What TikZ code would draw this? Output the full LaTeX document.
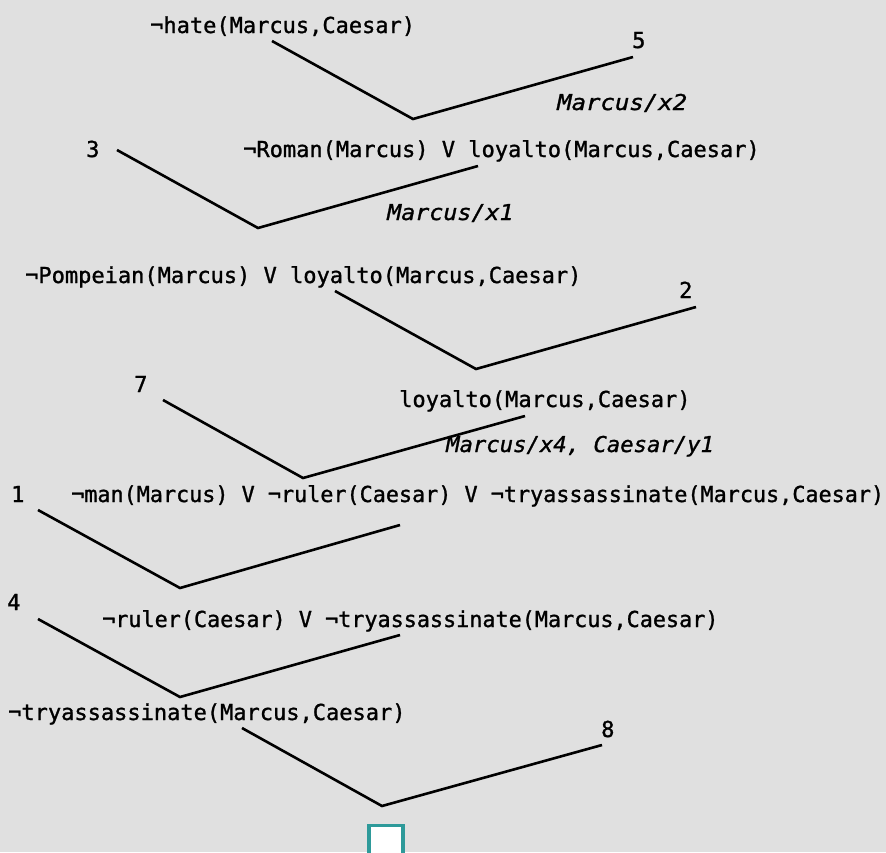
\documentclass[tikz,border=0pt]{standalone}
\usepackage{fontspec}
\setmainfont{DejaVu Sans Mono}
\newfontfamily\thick{DejaVu Sans Mono}[FakeBold=1.2]
\definecolor{bg}{HTML}{E0E0E0}
\definecolor{teal2}{HTML}{2E9A9A}
\begin{document}
\begin{tikzpicture}[x=1pt,y=-1pt,
  txt/.style={anchor=base west,inner sep=0pt,font=\thick\fontsize{22}{24}\selectfont},
  sub/.style={txt,font=\thick\fontsize{21.8}{24}\selectfont\itshape},
  num/.style={txt},
  arm/.style={draw=black,line width=2.6pt,line join=miter}]
\fill[bg] (0,0) rectangle (886,852);
\useasboundingbox (0,0) rectangle (886,852);
\clip (0,0) rectangle (886,852);
% texts
\node[txt] (t1) at (150,33) {¬hate(Marcus,Caesar)};
\node[num] (n5) at (632,48) {5};
\node[sub,xscale=1.1] (s1) at (557,110) {Marcus/x2};
\node[num] (n3) at (86,157) {3};
\node[txt] (t2) at (243,157) {¬Roman(Marcus) V loyalto(Marcus,Caesar)};
\node[sub,xscale=1.07] (s2) at (387,220) {Marcus/x1};
\node[txt] (t3) at (25,283) {¬Pompeian(Marcus) V loyalto(Marcus,Caesar)};
\node[num] (n2) at (679,298) {2};
\node[num] (n7) at (134,392) {7};
\node[txt] (t4) at (399,407) {loyalto(Marcus,Caesar)};
\node[sub,xscale=1.02] (s3) at (446,452) {Marcus/x4, Caesar/y1};
\node[num] (n1) at (11,502) {1};
\node[txt,xscale=0.99] (t5) at (71,502) {¬man(Marcus) V ¬ruler(Caesar) V ¬tryassassinate(Marcus,Caesar)};
\node[num] (n4) at (7,610) {4};
\node[txt,xscale=0.99] (t6) at (102,627) {¬ruler(Caesar) V ¬tryassassinate(Marcus,Caesar)};
\node[txt] (t7) at (8,720) {¬tryassassinate(Marcus,Caesar)};
\node[num] (n8) at (601,737) {8};
% empty clause box
\node[draw=teal2,fill=white,line width=3.5pt,minimum width=34pt,minimum height=40pt,inner sep=0pt,anchor=north west] (box) at (367,823.5) {};
% connector points
\coordinate (a1) at (272,41);  \coordinate (v1) at (413,119); \coordinate (b1) at (633,57);
\coordinate (a2) at (117,150); \coordinate (v2) at (258,228); \coordinate (b2) at (478,166);
\coordinate (a3) at (335,291); \coordinate (v3) at (476,369); \coordinate (b3) at (696,307);
\coordinate (a4) at (163,400); \coordinate (v4) at (303,478); \coordinate (b4) at (525,416);
\coordinate (a5) at (38,510);  \coordinate (v5) at (180,588); \coordinate (b5) at (400,525);
\coordinate (a6) at (38,619);  \coordinate (v6) at (180,697); \coordinate (b6) at (400,635);
\coordinate (a7) at (242,728); \coordinate (v7) at (382,806); \coordinate (b7) at (602,745);
\draw[arm] (a1) -- (v1) -- (b1);
\draw[arm] (a2) -- (v2) -- (b2);
\draw[arm] (a3) -- (v3) -- (b3);
\draw[arm] (a4) -- (v4) -- (b4);
\draw[arm] (a5) -- (v5) -- (b5);
\draw[arm] (a6) -- (v6) -- (b6);
\draw[arm] (a7) -- (v7) -- (b7);
\end{tikzpicture}
\end{document}
